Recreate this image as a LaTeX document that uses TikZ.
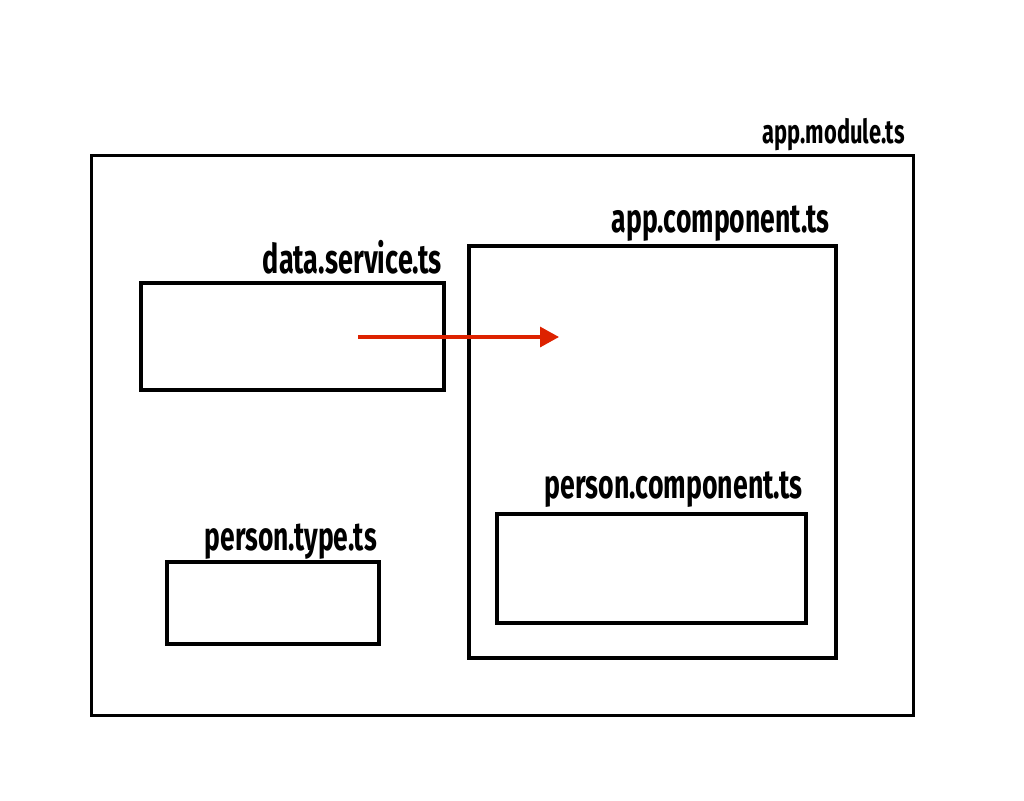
\documentclass[tikz,border=0pt]{standalone}
\usepackage{fontspec}
\usetikzlibrary{arrows.meta}
\newfontfamily\dinfont{Fira Sans}[FakeStretch=0.66]
\definecolor{arrowred}{RGB}{221,34,0}
\newcommand{\lbl}[2]{\resizebox{#1pt}{!}{\dinfont\bfseries\fontsize{30}{36}\selectfont #2}}
\begin{document}
\begin{tikzpicture}[x=1pt,y=-1pt,
  box/.style={draw=black,line width=4pt,fill=none,inner sep=0pt},
  lab/.style={anchor=base east,inner sep=0pt,text=black},
  flow/.style={draw=arrowred,line width=3.3pt,-{Triangle[length=19pt,width=20pt]}}]
\useasboundingbox (0,0) rectangle (1024,800);
\fill[white] (0,0) rectangle (1024,800);
% outer module
\node[box,line width=3pt,minimum width=822pt,minimum height=560pt] (module) at (502,435) {};
\node[lab] (modulelbl) at (905,143) {\lbl{142}{app.module.ts}};
% app component
\node[box,minimum width=367pt,minimum height=412pt] (appcomp) at (652.5,452) {};
\node[lab] (appcomplbl) at (830,232) {\lbl{218}{app.component.ts}};
% data service
\node[box,minimum width=303pt,minimum height=107pt] (dataserv) at (292.5,336.5) {};
\node[lab] (dataservlbl) at (442,273) {\lbl{179}{data.service.ts}};
% person type
\node[box,minimum width=212pt,minimum height=82pt] (ptype) at (273,603) {};
\node[lab] (ptypelbl) at (377,550) {\lbl{172}{person.type.ts}};
% person component
\node[box,minimum width=309pt,minimum height=109pt] (pcomp) at (651.5,568.5) {};
\node[lab] (pcomplbl) at (803,498) {\lbl{258}{person.component.ts}};
% arrow
\coordinate (src) at (358,337);
\coordinate (dst) at (559,337);
\draw[flow] (src) -- (dst);
\end{tikzpicture}
\end{document}
